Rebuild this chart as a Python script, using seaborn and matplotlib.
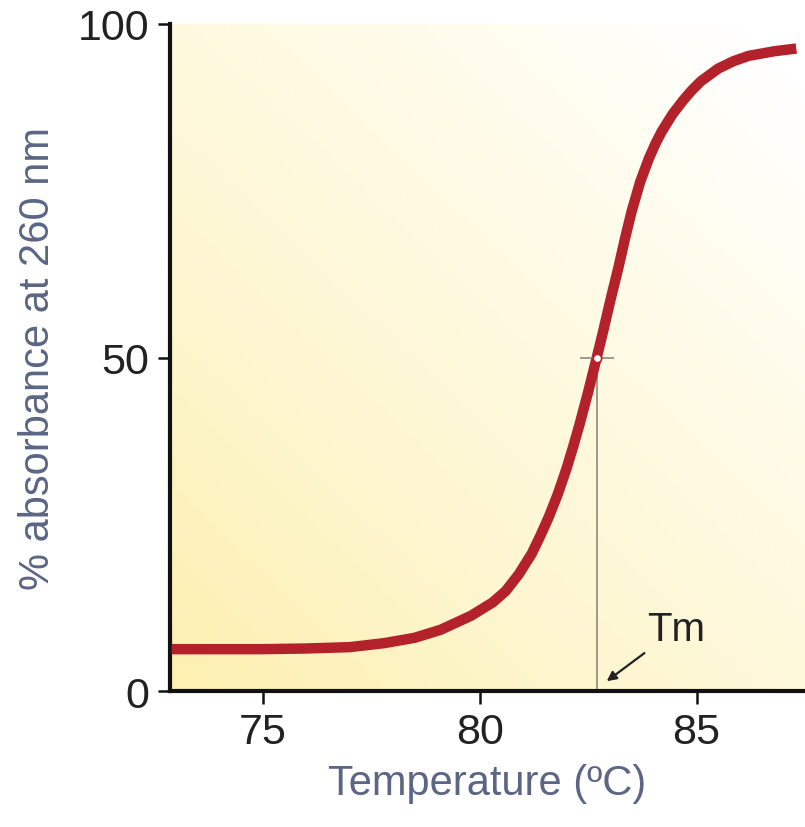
import numpy as np
import pandas as pd
import seaborn as sns
import matplotlib.pyplot as plt
from matplotlib.colors import LinearSegmentedColormap

# melting curve
temperature = [72.9, 74.0, 75.0, 76.0, 77.0, 77.8, 78.5, 79.1, 79.8, 80.3, 80.6,
               80.9, 81.2, 81.4, 81.6, 81.8, 82.0, 82.15, 82.3, 82.5, 82.7,
               82.85, 83.0, 83.2, 83.35, 83.5, 83.7, 83.9, 84.05, 84.2, 84.45,
               84.7, 84.9, 85.1, 85.5, 85.85, 86.2, 86.8, 87.3]
absorbance = [6.3, 6.3, 6.3, 6.4, 6.6, 7.2, 8.0, 9.2, 11.3, 13.3, 15.0,
              17.5, 20.6, 23.3, 26.2, 29.5, 33.3, 36.5, 39.9, 44.8, 50.0,
              54.0, 58.2, 63.5, 67.8, 71.8, 76.3, 79.8, 82.0, 83.9, 86.5,
              88.6, 90.1, 91.4, 93.3, 94.4, 95.2, 95.9, 96.3]
tm = 82.7
tm_value = 50
x_ticks = [75, 80, 85]
y_ticks = [0, 50, 100]

df = pd.DataFrame({'Temperature': temperature, 'Absorbance': absorbance})

sns.set_style('ticks')
plt.rcParams['font.family'] = ['Liberation Sans', 'DejaVu Sans']

fig = plt.figure(figsize=(8.05, 8.28), dpi=100)
ax = fig.add_axes([0.211, 0.164, 0.789, 0.806])

# yellow-to-white background gradient
gx, gy = np.meshgrid(np.linspace(0, 1, 200), np.linspace(0, 1, 200))
grad = np.clip(0.5 * gx + 0.55 * gy, 0, 1)
cmap = LinearSegmentedColormap.from_list('bg', ['#fdf0b0', '#fef6cf', '#fffbe6', '#ffffff'])
ax.imshow(grad, cmap=cmap, origin='lower', aspect='auto',
          extent=[72.86, 87.5, 0, 100], zorder=0)

sns.lineplot(data=df, x='Temperature', y='Absorbance', ax=ax, color='#b3222a',
             linewidth=7.5, solid_capstyle='butt', solid_joinstyle='round', zorder=3)

ax.plot([tm, tm], [0, tm_value], color='#8a8a80', linewidth=1.2, zorder=2)
ax.plot([tm], [tm_value], marker='_', markersize=24, color='#8a8a80',
        markeredgewidth=1.2, zorder=4)
ax.plot([tm], [tm_value], marker='o', markersize=6, markerfacecolor='white',
        markeredgecolor='#b3222a', markeredgewidth=1.2, zorder=5)

ax.annotate('Tm', xy=(82.93, 1.5), xytext=(83.87, 9.3), fontsize=29,
            color='#222222', va='center', ha='left',
            arrowprops=dict(arrowstyle='-|>', color='#222222', lw=1.6,
                            mutation_scale=14, shrinkA=2, shrinkB=0))

ax.set_xlim(72.86, 87.5)
ax.set_ylim(0, 100)
ax.set_xticks(x_ticks)
ax.set_yticks(y_ticks)
sns.despine(ax=ax)
for s in ['left', 'bottom']:
    ax.spines[s].set_linewidth(3)
    ax.spines[s].set_color('#111111')
ax.tick_params(axis='both', direction='out', length=9, width=1.8,
               labelsize=31, colors='#111111', labelcolor='#222222', pad=6)

ax.set_xlabel('Temperature (ºC)', fontsize=30, color='#5b6685', labelpad=8)
ax.set_ylabel('% absorbance at 260 nm', fontsize=30, color='#5b6685', labelpad=14)

fig.savefig('out.png', dpi=100)
